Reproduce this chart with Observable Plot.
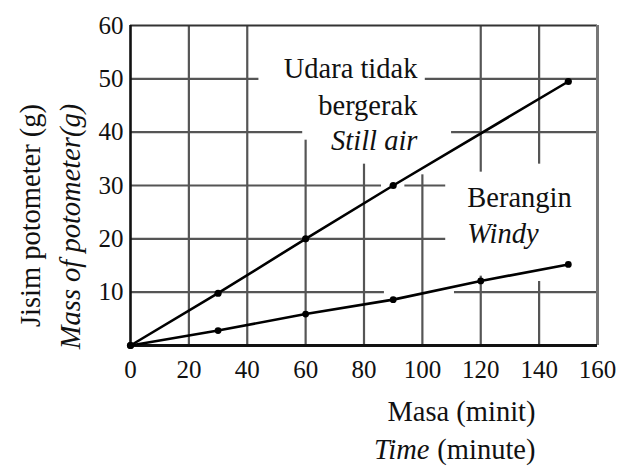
<!DOCTYPE html>
<html>
<head>
<meta charset="utf-8">
<script src="https://cdn.jsdelivr.net/npm/d3@7"></script>
<script src="https://cdn.jsdelivr.net/npm/@observablehq/plot@0.6"></script>
<style>
  html, body { margin: 0; padding: 0; background: #fff; }
</style>
</head>
<body>
<div id="chart"></div>
<script>
// ---- data ----
const stillTimes = [0, 30, 60, 90, 150];
const stillMass  = [0, 9.8, 20, 30, 49.5];
const windyTimes = [0, 30, 60, 90, 120, 150];
const windyMass  = [0, 2.8, 5.9, 8.6, 12.1, 15.2];

const xTicks = [0, 20, 40, 60, 80, 100, 120, 140, 160];
const yTicks = [10, 20, 30, 40, 50, 60];

// broken grid lines of the printed figure (data units)
const hGridY    = [50, 50, 40, 40, 30, 30, 20, 10, 10];
const hGridFrom = [0, 101, 0, 110, 0, 94, 0, 0, 111];
const hGridTo   = [44, 160, 59, 160, 86, 108, 108, 87, 160];
const vGridX    = [20, 40, 60, 80, 100, 120, 120, 140, 140];
const vGridFrom = [0, 0, 0, 0, 0, 0, 32.5, 0, 34];
const vGridTo   = [60, 60, 38.5, 34, 32, 13, 60, 12, 60];

const still = stillTimes.map((t, i) => ({time: t, mass: stillMass[i]}));
const windy = windyTimes.map((t, i) => ({time: t, mass: windyMass[i]}));
const hGrid = hGridY.map((y, i) => ({y, x1: hGridFrom[i], x2: hGridTo[i]}));
const vGrid = vGridX.map((x, i) => ({x, y1: vGridFrom[i], y2: vGridTo[i]}));

const serif = "'Liberation Serif', 'Times New Roman', serif";
const fs = 28.5;

const chart = Plot.plot({
  width: 620,
  height: 476,
  marginLeft: 130,
  marginRight: 23,
  marginTop: 25,
  marginBottom: 131,
  style: {fontFamily: serif, fontSize: "25px", background: "#fff", color: "#111", overflow: "visible"},
  x: {domain: [0, 160]},
  y: {domain: [0, 60]},
  marks: [
    // grid
    Plot.ruleY(hGrid, {y: "y", x1: "x1", x2: "x2", stroke: "#555", strokeWidth: 2.2}),
    Plot.ruleX(vGrid, {x: "x", y1: "y1", y2: "y2", stroke: "#555", strokeWidth: 2.2}),
    // frame
    Plot.ruleY([60], {stroke: "#333", strokeWidth: 2.2}),
    Plot.ruleX([160], {stroke: "#777", strokeWidth: 3}),
    Plot.ruleX([0], {stroke: "#111", strokeWidth: 2.6}),
    Plot.ruleY([0], {stroke: "#111", strokeWidth: 3}),
    // axes
    Plot.axisX({ticks: xTicks, tickSize: 0, tickPadding: 15, fontSize: 25, label: null, tickFormat: d => String(d)}),
    Plot.axisY({ticks: yTicks, tickSize: 0, tickPadding: 7, fontSize: 25, label: null, tickFormat: d => String(d)}),
    // series
    Plot.line(still, {x: "time", y: "mass", stroke: "#000", strokeWidth: 2.6}),
    Plot.line(windy, {x: "time", y: "mass", stroke: "#000", strokeWidth: 2.6}),
    Plot.dot(still, {x: "time", y: "mass", fill: "#000", r: 3.6}),
    Plot.dot(windy, {x: "time", y: "mass", fill: "#000", r: 3.4}),
    // annotations
    Plot.text(["Udara tidak"], {x: 98.3, y: 51.9, textAnchor: "end", fontSize: fs, fill: "#111"}),
    Plot.text(["bergerak"], {x: 98.3, y: 45.0, textAnchor: "end", fontSize: fs, fill: "#111"}),
    Plot.text(["Still air"], {x: 98.3, y: 38.4, textAnchor: "end", fontSize: fs, fontStyle: "italic", fill: "#111"}),
    Plot.text(["Berangin"], {x: 115.4, y: 27.6, textAnchor: "start", fontSize: fs, fill: "#111"}),
    Plot.text(["Windy"], {x: 115.4, y: 21.0, textAnchor: "start", fontSize: fs, fontStyle: "italic", fill: "#111"}),
    // axis titles
    Plot.text(["Masa (minit)"], {frameAnchor: "bottom-right", textAnchor: "end", dx: -62, dy: 75, fontSize: fs, fill: "#111"}),
    Plot.text(["Time"], {frameAnchor: "bottom-right", textAnchor: "end", dx: -168, dy: 113, fontSize: fs, fontStyle: "italic", fill: "#111"}),
    Plot.text(["(minute)"], {frameAnchor: "bottom-right", textAnchor: "end", dx: -62, dy: 113, fontSize: fs, fill: "#111"}),
    Plot.text(["Jisim potometer (g)"], {frameAnchor: "left", textAnchor: "middle", rotate: -90, dx: -100, dy: 30, fontSize: fs, fill: "#111"}),
    Plot.text(["Mass of potometer(g)"], {frameAnchor: "left", textAnchor: "middle", rotate: -90, dx: -60, dy: 41, fontSize: fs, fontStyle: "italic", fill: "#111"})
  ]
});
document.getElementById("chart").appendChild(chart);
</script>
</body>
</html>
